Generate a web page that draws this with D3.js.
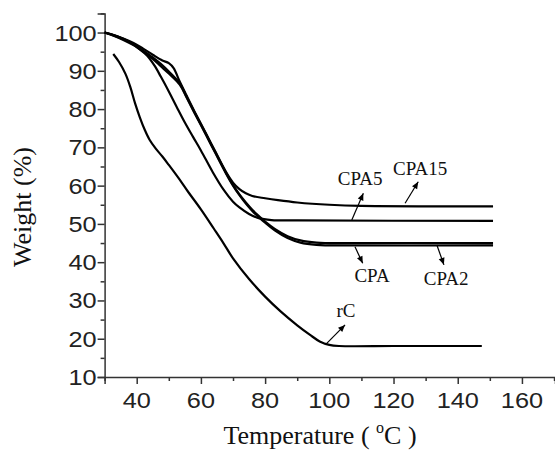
<!DOCTYPE html>
<html><head><meta charset="utf-8">
<script src="https://cdn.jsdelivr.net/npm/d3@7"></script>
<style>body{margin:0;background:#fff}svg{display:block}</style>
</head><body>
<svg id="c" width="555" height="451"></svg>
<script>
// ---- data (temperature °C, weight %) ----
const rC = [[32.7,94.4],[34.5,92.3],[36.5,89.2],[38,85.8],[39.5,81.5],[41,77.8],[42.5,74.6],[44,72],[46,69.6],[48,67.6],[50,65.4],[53,62],[56,58.4],[60,53.8],[64,48.8],[67,45],[70,41],[75,35.6],[80,31],[85,27],[90,23.5],[94,21],[97,19.3],[100,18.4],[103,18.1],[120,18.1],[135,18.1],[147.5,18.1]];
const CPA5 = [[30,100],[34,99],[38,97.4],[41,95.6],[43.2,94],[45.5,91.4],[47.5,88.5],[50,84.6],[52.5,80.5],[55,76.5],[57.5,72.8],[60,69.2],[63.7,63.5],[67,59],[70,55.8],[72,54.3],[75,52.6],[78,51.5],[82,51.0],[90,50.9],[151,50.8]];
const CPA15 = [[30,100],[33,99.3],[36,98.4],[39,97.3],[42,95.8],[45,94.2],[48,92.7],[50,92],[51.5,90.7],[53.4,87.2],[55.5,83.6],[58,79.4],[61.6,73.6],[64.5,68.9],[67.8,63.6],[70,60.8],[72,59.1],[74,58],[76,57.3],[80,56.7],[84,56.2],[90,55.6],[100,55],[110,54.7],[151,54.6]];
const CPA = [[30,100],[33,99.2],[36,98.2],[39,97],[42,95.3],[45,93.5],[47.5,91.8],[50,89.8],[53.4,86.7],[55.5,83.3],[58,79.2],[61.6,73.4],[64.5,68.7],[67.8,63.4],[70,60.2],[72,57.7],[74,55.6],[76,53.7],[78,52.1],[80,50.6],[83,48.7],[87,46.8],[91,45.7],[96,45.1],[100,45],[151,45]];
const CPA2 = [[30,100],[33,99.1],[36,98.0],[39,96.7],[42,95],[45,93.1],[47.5,91.2],[50,89.3],[53.4,86.4],[55.5,83.1],[58,79],[61.6,73.2],[64.5,68.5],[67.8,63.2],[70,60],[72,57.5],[74,55.3],[76,53.4],[78,51.8],[80,50.3],[83,48.3],[87,46.3],[91,45.1],[96,44.5],[100,44.4],[151,44.4]];
const xTicks = [40,60,80,100,120,140,160];
const yTicks = [10,20,30,40,50,60,70,80,90,100];
const seriesNames = ["rC","CPA5","CPA15","CPA","CPA2"];

const svg = d3.select("#c");
const x = d3.scaleLinear().domain([30,170.3]).range([104.6,555]);
const y = d3.scaleLinear().domain([10,105]).range([377,13.4]);

const sans = "'Liberation Sans', Arial, sans-serif";
const serif = "'Liberation Serif', 'Times New Roman', serif";

// axes
const xAxis = svg.append("g").attr("transform",`translate(0,${y(10)})`)
  .call(d3.axisBottom(x).tickValues(d3.range(30,171,10)).tickSize(7).tickFormat(""));
const yAxis = svg.append("g").attr("transform",`translate(${x(30)},0)`)
  .call(d3.axisLeft(y).tickValues(d3.range(10,106,5)).tickSize(7).tickFormat(""));
[xAxis,yAxis].forEach(g=>{
  g.selectAll("path").attr("stroke","#333").attr("stroke-width",1.5);
  g.selectAll("line").attr("stroke","#333").attr("stroke-width",1.5);
});
xAxis.selectAll(".tick").filter(d=>d%20!==0).select("line").attr("y2",4);
yAxis.selectAll(".tick").filter(d=>d%10!==0).select("line").attr("x2",-4);

// tick labels
svg.append("g").selectAll("text").data(xTicks).join("text")
  .attr("transform",d=>`translate(${x(d)},${y(10)+31}) scale(1.15,1)`)
  .attr("text-anchor","middle").attr("font-family",sans).attr("font-size",22).attr("fill","#222")
  .text(d=>d);
svg.append("g").selectAll("text").data(yTicks).join("text")
  .attr("transform",d=>`translate(${x(30)-8},${y(d)+8}) scale(1.15,1)`)
  .attr("text-anchor","end").attr("font-family",sans).attr("font-size",22).attr("fill","#222")
  .text(d=>d);

// axis titles
const xt = svg.append("text").attr("x",320).attr("y",444).attr("text-anchor","middle")
  .attr("font-family",serif).attr("font-size",26).attr("fill","#111");
xt.append("tspan").text("Temperature ( ");
xt.append("tspan").attr("font-size",16).attr("dy",-11).text("o");
xt.append("tspan").attr("dy",11).text("C )");
svg.append("text").attr("transform","translate(31,207) rotate(-90)").attr("text-anchor","middle")
  .attr("font-family",serif).attr("font-size",26).attr("fill","#111").text("Weight (%)");

// curves
const line = d3.line().x(d=>x(d[0])).y(d=>y(d[1])).curve(d3.curveCatmullRom.alpha(0.5));
[rC,CPA5,CPA15,CPA,CPA2].forEach((s,i)=>{
  svg.append("path").datum(s).attr("d",line).attr("fill","none")
    .attr("stroke","#000").attr("stroke-width",2.2).attr("class","s-"+seriesNames[i]);
});

// annotations: label text, label pos, arrow from (on curve) -> to (tip)
const notes = [
  {t:"CPA5", lx:109.6, ly:60.2, fx:107, fy:51, tx:110.6, ty:58},
  {t:"CPA15", lx:128.3, ly:62.8, fx:123.6, fy:55.4, tx:127.7, ty:61},
  {t:"CPA", lx:113.3, ly:34.8, fx:108, fy:44, tx:110.4, ty:39.7},
  {t:"CPA2", lx:136.4, ly:34, fx:133.5, fy:44.5, tx:135.7, ty:39.3},
  {t:"rC", lx:105.2, ly:25.7, fx:99.2, fy:18.8, tx:104.9, ty:23.6}
];
notes.forEach(n=>{
  svg.append("text").attr("x",x(n.lx)).attr("y",y(n.ly)).attr("text-anchor","middle")
    .attr("font-family",serif).attr("font-size",19).attr("fill","#111").text(n.t);
  const x1=x(n.fx),y1=y(n.fy),x2=x(n.tx),y2=y(n.ty);
  svg.append("line").attr("x1",x1).attr("y1",y1).attr("x2",x2).attr("y2",y2)
    .attr("stroke","#000").attr("stroke-width",1.2);
  const a=Math.atan2(y2-y1,x2-x1), L=7, W=3;
  const bx=x2-L*Math.cos(a), by=y2-L*Math.sin(a);
  svg.append("path").attr("d",`M${x2},${y2}L${bx+W*Math.sin(a)},${by-W*Math.cos(a)}L${bx-W*Math.sin(a)},${by+W*Math.cos(a)}Z`)
    .attr("fill","#000");
});
</script>
</body></html>
